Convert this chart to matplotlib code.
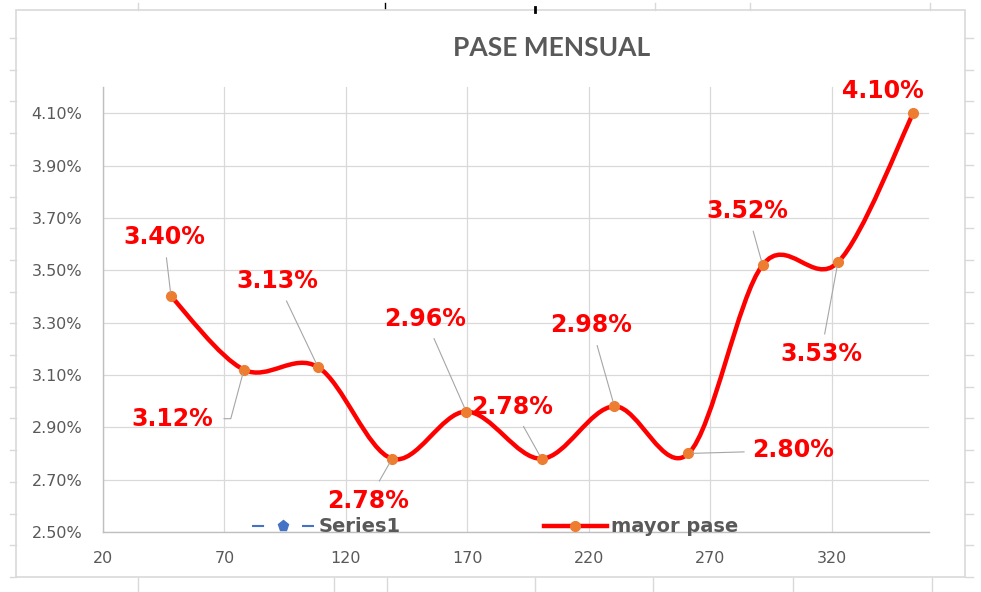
import numpy as np
import matplotlib
matplotlib.use("Agg")
import matplotlib.pyplot as plt
from matplotlib.path import Path
from matplotlib.patches import PathPatch, Rectangle
from matplotlib.lines import Line2D

# data
x_vals = [48, 78, 108.5, 139, 169.5, 200.5, 230.5, 261, 291.5, 322.5, 353.5]
pase = [3.40, 3.12, 3.13, 2.78, 2.96, 2.78, 2.98, 2.80, 3.52, 3.53, 4.10]
y_ticks = [2.50, 2.70, 2.90, 3.10, 3.30, 3.50, 3.70, 3.90, 4.10]
x_ticks = [20, 70, 120, 170, 220, 270, 320]
# label offsets in pixels (dx, dy) from each point, and leader on/off
lab_dx = [-7, -72, -41, -24, -41, -29, -23, 105, -15, -17, -30]
lab_dy = [59, -49, 86, -42, 93, 52, 81, 3, 54, -92, 22]
leader = [True] * 10 + [False]

RED = "#FF0000"
ORANGE = "#ED7D31"
GRAY = "#595959"

W, H = 981, 592
fig = plt.figure(figsize=(W / 100, H / 100), dpi=100)
ax = fig.add_axes([103 / W, 1 - 532 / H, (929 - 103) / W, (532 - 87) / H])

# smooth line (Catmull-Rom style bezier like Excel)
P = np.column_stack([x_vals, pase])
n = len(P)
verts = [tuple(P[0])]
codes = [Path.MOVETO]
for i in range(n - 1):
    p_prev = P[max(i - 1, 0)]
    p_next2 = P[min(i + 2, n - 1)]
    c1 = P[i] + (P[i + 1] - p_prev) / 6
    c2 = P[i + 1] - (p_next2 - P[i]) / 6
    verts += [tuple(c1), tuple(c2), tuple(P[i + 1])]
    codes += [Path.CURVE4] * 3
ax.add_patch(PathPatch(Path(verts, codes), fill=False, ec=RED, lw=3.2,
                       capstyle="round", joinstyle="round", zorder=3))
ax.plot(x_vals, pase, ls="none", marker="o", ms=7, mfc=ORANGE, mec=ORANGE, zorder=4)

# data labels
for i, (xv, yv, dx, dy, ld) in enumerate(zip(x_vals, pase, lab_dx, lab_dy, leader)):
    arrow = None
    if ld:
        arrow = dict(arrowstyle="-", color="#a6a6a6", lw=0.8, shrinkA=4, shrinkB=3)
        if i == 1:  # elbow leader for 3.12%
            arrow.update(connectionstyle="angle,angleA=0,angleB=75,rad=0",
                         relpos=(1, 0.5), shrinkA=6)
    ax.annotate(f"{yv:.2f}%", xy=(xv, yv), xytext=(dx, dy), textcoords="offset pixels",
                ha="center", va="center", fontsize=17, fontweight="bold", color=RED,
                arrowprops=arrow, zorder=5)

ax.set_xlim(20, 360)
ax.set_ylim(2.5, 4.2)
ax.set_xticks(x_ticks)
ax.set_yticks(y_ticks)
ax.set_yticklabels([f"{v:.2f}%" for v in y_ticks])
ax.tick_params(length=0, labelsize=11.5, labelcolor=GRAY)
ax.tick_params(axis="x", pad=14)
ax.tick_params(axis="y", pad=15)
ax.grid(True, color="#d9d9d9", lw=0.9)
ax.set_axisbelow(True)
for s in ["top", "right"]:
    ax.spines[s].set_visible(False)
for s in ["left", "bottom"]:
    ax.spines[s].set_color("#bfbfbf")
    ax.spines[s].set_linewidth(1.0)

# title
fig.text(552 / W, 1 - 47.5 / H, "PASE MENSUAL", ha="center", va="center",
         fontsize=19, fontweight="bold", color=GRAY, family=["Lato", "DejaVu Sans"])

# legend
h1 = Line2D([], [], color="#4472C4", lw=1.5, ls=(0, (5.8, 18.2)), marker="p", ms=8,
            mfc="#4472C4", mec="#4472C4")
h2 = Line2D([], [], color=RED, lw=3.2, marker="o", ms=7, mfc=ORANGE, mec=ORANGE)
leg = ax.legend([h1, h2], ["Series1", "mayor pase"], ncol=2, loc="center",
                bbox_to_anchor=(495 / W, 1 - 527 / H), bbox_transform=fig.transFigure,
                frameon=False, handlelength=3.2, handletextpad=0.22, columnspacing=7.4,
                prop=dict(size=14, weight="bold"), labelcolor=GRAY)
leg.set_zorder(6)

# chart border and spreadsheet marks around it
fig.add_artist(Rectangle((16 / W, 1 - 577 / H), (965 - 16) / W, (577 - 10) / H,
                         transform=fig.transFigure, fill=False, ec="#d9d9d9", lw=1.2))
for yy in np.arange(38, 577, 31.7):
    fig.add_artist(Line2D([10 / W, 16 / W], [1 - yy / H] * 2, color="#d9d9d9", lw=1))
    fig.add_artist(Line2D([965 / W, 973 / W], [1 - yy / H] * 2, color="#d9d9d9", lw=1))
for xx in [138, 334, 387, 535, 653, 793, 932]:
    fig.add_artist(Line2D([xx / W] * 2, [0, 1 - 578 / H], color="#d9d9d9", lw=1))
for xx in [138, 655, 750, 930]:
    fig.add_artist(Line2D([xx / W] * 2, [1 - 3 / H, 1 - 10 / H], color="#d9d9d9", lw=1))
fig.add_artist(Line2D([385 / W] * 2, [1 - 3 / H, 1 - 8 / H], color="black", lw=1))
fig.add_artist(Line2D([535 / W] * 2, [1 - 7 / H, 1 - 12 / H], color="black", lw=2))

fig.savefig("out.png", dpi=100)
